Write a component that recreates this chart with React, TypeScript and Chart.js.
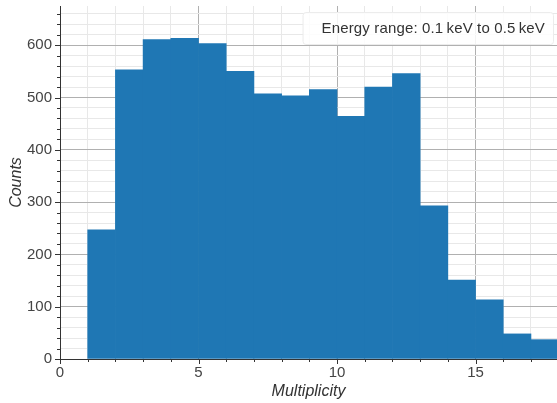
import React, { useEffect, useRef } from "react";
import { Chart, registerables } from "chart.js";

Chart.register(...registerables);

const binStarts = [1, 2, 3, 4, 5, 6, 7, 8, 9, 10, 11, 12, 13, 14, 15, 16, 17];
const counts = [247, 553, 611, 613, 603, 550, 507, 503, 515, 464, 520, 546, 293, 151, 113, 48, 37];
const binWidth = 1;
const xTickLabels = [0, 5, 10, 15];
const yTickLabels = [0, 100, 200, 300, 400, 500, 600];
const legendText = "Energy range: 0.1\u2009keV to 0.5\u2009keV";
const xTitle = "Multiplicity";
const yTitle = "Counts";

const FONT = "'Liberation Sans', Arial, sans-serif";

const tickPlugin = {
  id: "customTicks",
  afterDraw(chart: any) {
    const ctx = chart.ctx;
    const xs = chart.scales.x;
    const ys = chart.scales.y;
    ctx.save();
    ctx.strokeStyle = "#333";
    ctx.lineWidth = 1;
    ctx.beginPath();
    xs.ticks.forEach((t: any) => {
      const px = Math.round(xs.getPixelForValue(t.value)) + 0.5;
      const len = xTickLabels.includes(t.value) ? 5 : 3;
      ctx.moveTo(px, xs.top);
      ctx.lineTo(px, xs.top + len);
    });
    ys.ticks.forEach((t: any) => {
      const py = Math.round(ys.getPixelForValue(t.value)) + 0.5;
      const len = yTickLabels.includes(t.value) ? 5 : 3;
      ctx.moveTo(ys.right, py);
      ctx.lineTo(ys.right - len, py);
    });
    ctx.stroke();

    // legend text box
    const area = chart.chartArea;
    ctx.font = `15px ${FONT}`;
    (ctx as any).letterSpacing = "0.15px";
    const w = ctx.measureText(legendText).width;
    const boxRight = area.right - 4;
    const textLeft = boxRight - 8 - w;
    const boxLeft = textLeft - 19;
    const boxTop = 12;
    const boxH = 32;
    ctx.fillStyle = "rgba(255,255,255,0.85)";
    ctx.strokeStyle = "#ececec";
    ctx.beginPath();
    (ctx as any).roundRect
      ? (ctx as any).roundRect(boxLeft + 0.5, boxTop + 0.5, boxRight - boxLeft, boxH, 3)
      : ctx.rect(boxLeft + 0.5, boxTop + 0.5, boxRight - boxLeft, boxH);
    ctx.fill();
    ctx.stroke();
    ctx.fillStyle = "#333";
    ctx.textBaseline = "alphabetic";
    ctx.textAlign = "left";
    ctx.fillText(legendText, textLeft, boxTop + 21);
    ctx.restore();
  },
};

export default function App() {
  const ref = useRef<HTMLCanvasElement>(null);
  useEffect(() => {
    document.body.style.margin = "0";
    const chart = new Chart(ref.current!, {
      type: "bar",
      data: {
        datasets: [
          {
            data: binStarts.map((s, i) => ({ x: s + binWidth / 2, y: counts[i] })),
            backgroundColor: "#1f77b4",
            borderWidth: 0,
            barPercentage: 1,
            categoryPercentage: 1,
          } as any,
        ],
      },
      options: {
        animation: false,
        responsive: false,
        layout: { padding: { top: 6, right: 0, left: 0, bottom: 0 } },
        plugins: { legend: { display: false }, tooltip: { enabled: false } },
        scales: {
          x: {
            type: "linear",
            min: 0,
            max: 17.94,
            offset: false,
            afterFit: (s: any) => {
              s.height = 44;
              s.paddingLeft = 0;
              s.paddingRight = 0;
              s.paddingTop = 0;
              s.paddingBottom = 0;
            },
            grid: {
              offset: false,
              drawTicks: false,
              color: (c: any) => (c.tick && c.tick.value % 5 === 0 ? "#b0b0b0" : "#e8e8e8"),
              lineWidth: 1,
            },
            border: { display: true, color: "#333", width: 1 },
            ticks: {
              stepSize: 1,
              autoSkip: false,
              includeBounds: false,
              maxRotation: 0,
              padding: 5,
              color: "#444",
              font: { family: FONT, size: 15 },
              callback: (v: any) => (xTickLabels.includes(v) ? String(v) : ""),
            },
            title: {
              display: true,
              text: xTitle,
              color: "#333",
              font: { family: FONT, size: 16, style: "italic" },
              padding: { top: 0, bottom: 2 },
            },
          },
          y: {
            type: "linear",
            min: 0,
            max: 675,
            afterFit: (s: any) => {
              s.width = 60;
              s.paddingLeft = 0;
              s.paddingRight = 0;
              s.paddingTop = 0;
              s.paddingBottom = 0;
            },
            grid: {
              drawTicks: false,
              color: (c: any) => (c.tick && c.tick.value % 100 === 0 ? "#b0b0b0" : "#e8e8e8"),
              lineWidth: 1,
            },
            border: { display: true, color: "#333", width: 1 },
            ticks: {
              stepSize: 20,
              autoSkip: false,
              includeBounds: false,
              padding: 8,
              color: "#444",
              font: { family: FONT, size: 15 },
              callback: (v: any) => (yTickLabels.includes(v) ? String(v) : ""),
            },
            title: {
              display: true,
              text: yTitle,
              color: "#333",
              font: { family: FONT, size: 16, style: "italic" },
              padding: { top: 7, bottom: 0 },
            },
          },
        },
      },
      plugins: [tickPlugin],
    });
    return () => chart.destroy();
  }, []);
  return (
    <div style={{ position: "absolute", left: 0, top: 0, width: 557, height: 403 }}>
      <canvas ref={ref} width={557} height={403} />
    </div>
  );
}
